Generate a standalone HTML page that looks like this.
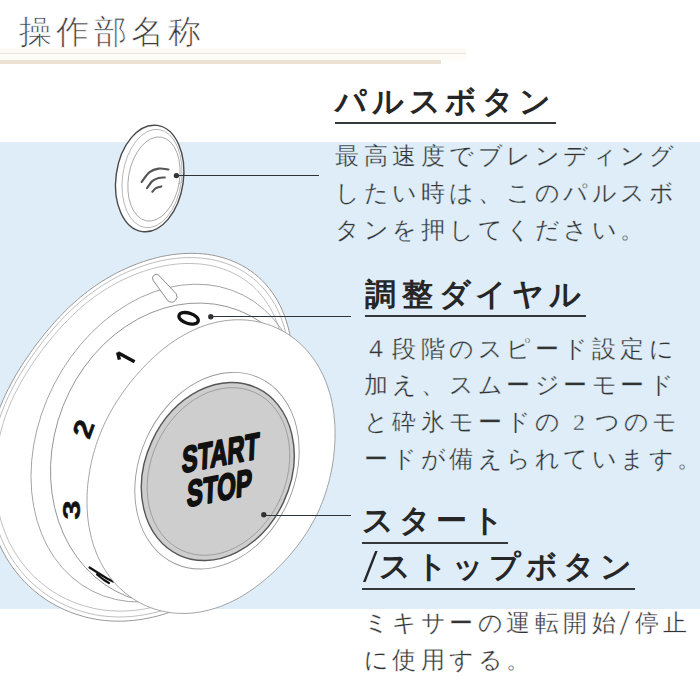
<!DOCTYPE html>
<html lang="ja">
<head>
<meta charset="utf-8">
<style>
html,body{margin:0;padding:0;}
body{width:700px;height:700px;overflow:hidden;position:relative;background:#fff;font-family:"Liberation Sans",sans-serif;}
.band{position:absolute;left:0;top:142px;width:700px;height:467px;background:#deedf8;}
.ln0{position:absolute;left:0;top:48px;width:466px;height:5px;background:#fdf9f6;}
.ln1{position:absolute;left:0;top:53px;width:466px;height:1px;background:#ebe5dc;}
.ln1b{position:absolute;left:0;top:54px;width:466px;height:6px;background:#fefcf7;}
.ln2{position:absolute;left:0;top:60px;width:441px;height:4px;background:#ebe1d4;}
svg{position:absolute;left:0;top:0;}
.t,.h,.b{position:absolute;white-space:nowrap;}
.t{font-size:33px;line-height:33px;color:#3c3c3c;-webkit-text-stroke:0.7px #fff;}
.t span{width:37.3px;}
.h{font-family:"Liberation Serif",serif;font-weight:bold;font-size:31px;line-height:31px;color:#262626;}
.h span{width:36.8px;}
.b{font-family:"Liberation Serif",serif;font-size:24px;line-height:24px;color:#333;-webkit-text-stroke:0.3px #deedf8;}
.b.w{-webkit-text-stroke-color:#fff;}
.b span{width:28.5px;}
.t span,.h span,.b span{display:inline-block;}
.u{position:absolute;background:#35383b;}
</style>
</head>
<body>
<div class="band"></div>
<div class="ln0"></div><div class="ln1"></div><div class="ln1b"></div><div class="ln2"></div>
<svg width="700" height="700" viewBox="0 0 700 700">
  <g fill="none" stroke-linecap="round">
    <ellipse cx="149.7" cy="178.5" rx="33.7" ry="53.6" transform="rotate(8 149.7 178.5)" fill="#fff" stroke="#4a4a4a" stroke-width="1.4"/>
    <ellipse cx="152" cy="178.5" rx="29.5" ry="49.5" transform="rotate(8 152 178.5)" stroke="#aaa" stroke-width="0.8"/>
    <ellipse cx="154" cy="179" rx="25.5" ry="42.5" transform="rotate(10 154 179)" stroke="#999" stroke-width="0.8"/>
    <path d="M141.6 182.0 C142.9 180.3 146.8 174.3 149.6 172.1 C152.4 169.9 155.5 169.0 158.6 168.6 C161.7 168.2 166.8 169.3 168.4 169.5" stroke="#555" stroke-width="2.1"/>
    <path d="M147.0 188.2 C147.9 187.0 150.4 182.8 152.3 181.1 C154.2 179.4 156.5 178.5 158.6 177.9 C160.7 177.3 163.8 177.6 164.8 177.5" stroke="#555" stroke-width="2.1"/>
    <path d="M152.3 191.8 C152.9 191.2 154.4 189.1 155.9 188.2 C157.4 187.3 160.4 186.7 161.3 186.4" stroke="#555" stroke-width="2.1"/>
  </g>
  <circle cx="176.4" cy="175.6" r="2.7" fill="#333"/>
  <line x1="176.4" y1="175.5" x2="319" y2="175.5" stroke="#2d3338" stroke-width="1.1"/>
  <g stroke-linecap="round">
    <path d="M-9.4 438.0 L-8.4 433.9 L-7.4 429.9 L-6.3 425.9 L-5.1 421.9 L-3.9 418.0 L-2.6 414.2 L-1.2 410.4 L0.3 406.6 L1.8 402.9 L3.4 399.3 L5.0 395.7 L6.7 392.1 L8.5 388.6 L10.3 385.1 L12.1 381.7 L14.0 378.3 L15.9 375.0 L17.9 371.7 L19.9 368.4 L21.9 365.2 L24.0 362.0 L26.1 358.9 L28.3 355.7 L30.5 352.6 L32.7 349.5 L34.9 346.4 L37.2 343.4 L39.5 340.4 L41.9 337.3 L44.3 334.3 L46.8 331.3 L49.3 328.4 L51.8 325.4 L54.4 322.4 L57.1 319.5 L59.8 316.6 L62.6 313.7 L65.4 310.8 L68.3 308.0 L71.3 305.2 L74.4 302.4 L77.5 299.6 L80.7 296.9 L84.0 294.3 L87.4 291.6 L90.8 289.0 L94.4 286.5 L98.0 284.0 L101.7 281.6 L105.5 279.3 L109.3 277.0 L113.3 274.8 L117.3 272.6 L121.5 270.5 L125.7 268.6 L130.0 266.7 L134.4 264.9 L138.8 263.2 L143.4 261.6 L148.0 260.1 L152.7 258.8 L157.5 257.5 L162.3 256.4 L167.2 255.5 L172.1 254.7 L177.1 254.1 L182.2 253.6 L187.2 253.4 L192.3 253.3 L197.4 253.5 L202.6 253.8 L207.6 254.4 L212.7 255.2 L217.7 256.3 L222.7 257.6 L227.6 259.2 L232.4 261.0 L237.1 263.0 L241.7 265.4 L246.2 267.9 L250.5 270.8 L254.6 273.8 L258.6 277.1 L262.3 280.7 L265.8 284.4 L269.2 288.4 L272.3 292.5 L275.1 296.8 L277.8 301.2 L280.2 305.8 L282.4 310.5 L284.3 315.3 L286.0 320.1 L287.5 325.0 L288.8 329.9 L290.0 334.9 L290.9 339.8 L291.7 344.7 L292.4 349.5 L292.9 354.3 L293.3 359.1 L293.7 363.8 L294.0 368.4 L294.3 372.9 L294.5 377.3 L294.8 381.7 L295.1 385.9 L295.4 390.1 L295.7 394.2 L296.1 398.3 L296.6 402.3 L297.1 406.3 L297.7 410.3 L298.3 414.2 L299.0 418.1 L299.8 422.0 L300.6 426.0 L301.4 430.0 L302.3 434.0 L303.1 438.0 L304.0 442.1 L304.8 446.2 L305.5 450.4 L306.2 454.6 L306.8 458.9 L307.3 463.2 L307.7 467.6 L308.0 472.0 L308.0 476.4 L307.9 480.9 L307.7 485.3 L307.2 489.7 L306.5 494.1 L305.6 498.5 L304.5 502.8 L303.2 507.1 L301.7 511.3 L300.0 515.5 L298.1 519.5 L296.0 523.5 L293.7 527.3 L291.3 531.1 L288.7 534.7 L285.9 538.2 L283.0 541.6 L280.0 544.9 L276.9 548.1 L273.7 551.2 L270.4 554.1 L267.0 557.0 L263.6 559.8 L260.1 562.5 L256.6 565.1 L253.0 567.7 L249.4 570.2 L245.8 572.6 L242.2 575.0 L238.5 577.4 L234.8 579.7 L231.1 582.0 L227.4 584.2 L223.6 586.4 L219.9 588.6 L216.0 590.8 L212.2 593.0 L208.3 595.1 L204.4 597.2 L200.4 599.2 L196.3 601.2 L192.3 603.2 L188.1 605.1 L183.9 606.9 L179.6 608.7 L175.3 610.3 L170.9 611.9 L166.4 613.4 L161.9 614.8 L157.3 616.1 L152.7 617.2 L148.0 618.2 L143.3 619.1 L138.5 619.8 L133.6 620.4 L128.8 620.8 L123.9 621.1 L119.0 621.2 L114.1 621.1 L109.1 620.8 L104.2 620.4 L99.3 619.8 L94.4 619.0 L89.5 618.0 L84.7 616.8 L79.9 615.4 L75.1 613.9 L70.4 612.2 L65.8 610.3 L61.3 608.2 L56.8 606.0 L52.4 603.5 L48.1 601.0 L44.0 598.2 L39.9 595.3 L36.0 592.2 L32.2 589.0 L28.5 585.6 L24.9 582.1 L21.5 578.5 L18.3 574.7 L15.2 570.8 L12.2 566.8 L9.5 562.7 L6.8 558.6 L4.4 554.3 L2.1 550.0 L-0.1 545.6 L-2.0 541.1 L-3.8 536.6 L-5.5 532.1 L-7.0 527.5 L-8.3 522.9 L-9.5 518.2 L-10.5 513.6 L-11.4 509.0 L-12.2 504.3 L-12.8 499.7 L-13.2 495.1 L-13.6 490.5 L-13.8 485.9 L-13.9 481.4 L-13.9 476.9 L-13.8 472.4 L-13.6 468.0 L-13.3 463.5 L-12.9 459.2 L-12.4 454.9 L-11.7 450.6 L-11.1 446.3 L-10.3 442.1 Z" fill="#fff" stroke="#999" stroke-width="1"/>
    <path d="M-9.4 438.0 L-8.4 433.9 L-7.4 429.9 L-6.3 425.9 L-5.1 421.9 L-3.9 418.0 L-2.6 414.2 L-1.2 410.4 L0.3 406.6 L1.8 402.9 L3.4 399.3 L5.0 395.7 L6.7 392.1 L8.5 388.6 L10.3 385.1 L12.1 381.7 L14.0 378.3 L15.9 375.0 L17.9 371.7 L19.9 368.4 L21.9 365.2 L24.0 362.0 L26.1 358.9 L28.3 355.7 L30.5 352.6 L32.7 349.5 L34.9 346.4 L37.2 343.4 L39.5 340.4 L41.9 337.3 L44.3 334.3 L46.8 331.3 L49.3 328.4 L51.8 325.4 L54.4 322.4 L57.1 319.5 L59.8 316.6 L62.6 313.7 L65.4 310.8 L68.3 308.0 L71.3 305.2 L74.4 302.4 L77.5 299.6 L80.7 296.9 L84.0 294.3 L87.4 291.6 L90.8 289.0 L94.4 286.5 L98.0 284.0 L101.7 281.6 L105.5 279.3 L109.3 277.0 L113.3 274.8 L117.3 272.6 L121.5 270.5 L125.7 268.6 L130.0 266.7 L134.4 264.9 L138.8 263.2 L143.4 261.6 L148.0 260.1 L152.7 258.8 L157.5 257.5 L162.3 256.4 L167.2 255.5 L172.1 254.7 L177.1 254.1 L182.2 253.6 L187.2 253.4 L192.3 253.3 L197.4 253.5 L202.6 253.8 L207.6 254.4 L212.7 255.2 L217.7 256.3 L222.7 257.6 L227.6 259.2 L232.4 261.0 L237.1 263.0 L241.7 265.4 L246.2 267.9 L250.5 270.8 L254.6 273.8 L258.6 277.1 L262.3 280.7 L265.8 284.4 L269.2 288.4 L272.3 292.5 L275.1 296.8 L277.8 301.2 L280.2 305.8 L282.4 310.5 L284.3 315.3 L286.0 320.1 L287.5 325.0 L288.8 329.9 L290.0 334.9 L290.9 339.8 L291.7 344.7 L292.4 349.5 L292.9 354.3 L293.3 359.1 L293.7 363.8 L294.0 368.4 L294.3 372.9 L294.5 377.3 L294.8 381.7 L295.1 385.9 L295.4 390.1 L295.7 394.2 L296.1 398.3 L296.6 402.3 L297.1 406.3 L297.7 410.3 L298.3 414.2 L299.0 418.1 L299.8 422.0 L300.6 426.0 L301.4 430.0 L302.3 434.0 L303.1 438.0 L304.0 442.1 L304.8 446.2 L305.5 450.4 L306.2 454.6 L306.8 458.9 L307.3 463.2 L307.7 467.6 L308.0 472.0 L308.0 476.4 L307.9 480.9 L307.7 485.3 L307.2 489.7 L306.5 494.1 L305.6 498.5 L304.5 502.8 L303.2 507.1 L301.7 511.3 L300.0 515.5 L298.1 519.5 L296.0 523.5 L293.7 527.3 L291.3 531.1 L288.7 534.7 L285.9 538.2 L283.0 541.6 L280.0 544.9 L276.9 548.1 L273.7 551.2 L270.4 554.1 L267.0 557.0 L263.6 559.8 L260.1 562.5 L256.6 565.1 L253.0 567.7 L249.4 570.2 L245.8 572.6 L242.2 575.0 L238.5 577.4 L234.8 579.7 L231.1 582.0 L227.4 584.2 L223.6 586.4 L219.9 588.6 L216.0 590.8 L212.2 593.0 L208.3 595.1 L204.4 597.2 L200.4 599.2 L196.3 601.2 L192.3 603.2 L188.1 605.1 L183.9 606.9 L179.6 608.7 L175.3 610.3 L170.9 611.9 L166.4 613.4 L161.9 614.8 L157.3 616.1 L152.7 617.2 L148.0 618.2 L143.3 619.1 L138.5 619.8 L133.6 620.4 L128.8 620.8 L123.9 621.1 L119.0 621.2 L114.1 621.1 L109.1 620.8 L104.2 620.4 L99.3 619.8 L94.4 619.0 L89.5 618.0 L84.7 616.8 L79.9 615.4 L75.1 613.9 L70.4 612.2 L65.8 610.3 L61.3 608.2 L56.8 606.0 L52.4 603.5 L48.1 601.0 L44.0 598.2 L39.9 595.3 L36.0 592.2 L32.2 589.0 L28.5 585.6 L24.9 582.1 L21.5 578.5 L18.3 574.7 L15.2 570.8 L12.2 566.8 L9.5 562.7 L6.8 558.6 L4.4 554.3 L2.1 550.0 L-0.1 545.6 L-2.0 541.1 L-3.8 536.6 L-5.5 532.1 L-7.0 527.5 L-8.3 522.9 L-9.5 518.2 L-10.5 513.6 L-11.4 509.0 L-12.2 504.3 L-12.8 499.7 L-13.2 495.1 L-13.6 490.5 L-13.8 485.9 L-13.9 481.4 L-13.9 476.9 L-13.8 472.4 L-13.6 468.0 L-13.3 463.5 L-12.9 459.2 L-12.4 454.9 L-11.7 450.6 L-11.1 446.3 L-10.3 442.1 Z" fill="none" stroke="#aaa" stroke-width="0.8" transform="translate(148 438) scale(0.977) translate(-148 -438)"/>
    <path d="M-9.4 438.0 L-8.4 433.9 L-7.4 429.9 L-6.3 425.9 L-5.1 421.9 L-3.9 418.0 L-2.6 414.2 L-1.2 410.4 L0.3 406.6 L1.8 402.9 L3.4 399.3 L5.0 395.7 L6.7 392.1 L8.5 388.6 L10.3 385.1 L12.1 381.7 L14.0 378.3 L15.9 375.0 L17.9 371.7 L19.9 368.4 L21.9 365.2 L24.0 362.0 L26.1 358.9 L28.3 355.7 L30.5 352.6 L32.7 349.5 L34.9 346.4 L37.2 343.4 L39.5 340.4 L41.9 337.3 L44.3 334.3 L46.8 331.3 L49.3 328.4 L51.8 325.4 L54.4 322.4 L57.1 319.5 L59.8 316.6 L62.6 313.7 L65.4 310.8 L68.3 308.0 L71.3 305.2 L74.4 302.4 L77.5 299.6 L80.7 296.9 L84.0 294.3 L87.4 291.6 L90.8 289.0 L94.4 286.5 L98.0 284.0 L101.7 281.6 L105.5 279.3 L109.3 277.0 L113.3 274.8 L117.3 272.6 L121.5 270.5 L125.7 268.6 L130.0 266.7 L134.4 264.9 L138.8 263.2 L143.4 261.6 L148.0 260.1 L152.7 258.8 L157.5 257.5 L162.3 256.4 L167.2 255.5 L172.1 254.7 L177.1 254.1 L182.2 253.6 L187.2 253.4 L192.3 253.3 L197.4 253.5 L202.6 253.8 L207.6 254.4 L212.7 255.2 L217.7 256.3 L222.7 257.6 L227.6 259.2 L232.4 261.0 L237.1 263.0 L241.7 265.4 L246.2 267.9 L250.5 270.8 L254.6 273.8 L258.6 277.1 L262.3 280.7 L265.8 284.4 L269.2 288.4 L272.3 292.5 L275.1 296.8 L277.8 301.2 L280.2 305.8 L282.4 310.5 L284.3 315.3 L286.0 320.1 L287.5 325.0 L288.8 329.9 L290.0 334.9 L290.9 339.8 L291.7 344.7 L292.4 349.5 L292.9 354.3 L293.3 359.1 L293.7 363.8 L294.0 368.4 L294.3 372.9 L294.5 377.3 L294.8 381.7 L295.1 385.9 L295.4 390.1 L295.7 394.2 L296.1 398.3 L296.6 402.3 L297.1 406.3 L297.7 410.3 L298.3 414.2 L299.0 418.1 L299.8 422.0 L300.6 426.0 L301.4 430.0 L302.3 434.0 L303.1 438.0 L304.0 442.1 L304.8 446.2 L305.5 450.4 L306.2 454.6 L306.8 458.9 L307.3 463.2 L307.7 467.6 L308.0 472.0 L308.0 476.4 L307.9 480.9 L307.7 485.3 L307.2 489.7 L306.5 494.1 L305.6 498.5 L304.5 502.8 L303.2 507.1 L301.7 511.3 L300.0 515.5 L298.1 519.5 L296.0 523.5 L293.7 527.3 L291.3 531.1 L288.7 534.7 L285.9 538.2 L283.0 541.6 L280.0 544.9 L276.9 548.1 L273.7 551.2 L270.4 554.1 L267.0 557.0 L263.6 559.8 L260.1 562.5 L256.6 565.1 L253.0 567.7 L249.4 570.2 L245.8 572.6 L242.2 575.0 L238.5 577.4 L234.8 579.7 L231.1 582.0 L227.4 584.2 L223.6 586.4 L219.9 588.6 L216.0 590.8 L212.2 593.0 L208.3 595.1 L204.4 597.2 L200.4 599.2 L196.3 601.2 L192.3 603.2 L188.1 605.1 L183.9 606.9 L179.6 608.7 L175.3 610.3 L170.9 611.9 L166.4 613.4 L161.9 614.8 L157.3 616.1 L152.7 617.2 L148.0 618.2 L143.3 619.1 L138.5 619.8 L133.6 620.4 L128.8 620.8 L123.9 621.1 L119.0 621.2 L114.1 621.1 L109.1 620.8 L104.2 620.4 L99.3 619.8 L94.4 619.0 L89.5 618.0 L84.7 616.8 L79.9 615.4 L75.1 613.9 L70.4 612.2 L65.8 610.3 L61.3 608.2 L56.8 606.0 L52.4 603.5 L48.1 601.0 L44.0 598.2 L39.9 595.3 L36.0 592.2 L32.2 589.0 L28.5 585.6 L24.9 582.1 L21.5 578.5 L18.3 574.7 L15.2 570.8 L12.2 566.8 L9.5 562.7 L6.8 558.6 L4.4 554.3 L2.1 550.0 L-0.1 545.6 L-2.0 541.1 L-3.8 536.6 L-5.5 532.1 L-7.0 527.5 L-8.3 522.9 L-9.5 518.2 L-10.5 513.6 L-11.4 509.0 L-12.2 504.3 L-12.8 499.7 L-13.2 495.1 L-13.6 490.5 L-13.8 485.9 L-13.9 481.4 L-13.9 476.9 L-13.8 472.4 L-13.6 468.0 L-13.3 463.5 L-12.9 459.2 L-12.4 454.9 L-11.7 450.6 L-11.1 446.3 L-10.3 442.1 Z" fill="none" stroke="#aaa" stroke-width="0.8" transform="translate(148 438) scale(0.945) translate(-148 -438)"/>
    <ellipse cx="167.7" cy="443.1" rx="127.9" ry="166.1" transform="rotate(27.1 167.7 443.1)" fill="none" stroke="#999" stroke-width="0.8"/>
    <ellipse cx="183.1" cy="453.5" rx="129.1" ry="153.5" transform="rotate(21.4 183.1 453.5)" fill="none" stroke="#888" stroke-width="0.8"/>
    <path d="M-3.6 -13 A3.8 3.8 0 0 1 3.9 -13.5 L5.4 12 A5.5 5.5 0 0 1 -5.4 12.5 Z" transform="translate(164.3 288) rotate(-40)" fill="#fff" stroke="#888" stroke-width="0.9"/>
    <g font-family="Liberation Sans" font-weight="bold" fill="#111" stroke="#111" stroke-width="0.4" stroke-linejoin="round">
      <ellipse cx="188.6" cy="318.3" rx="10" ry="5.2" transform="rotate(17 188.6 318.3)" fill="none" stroke-width="3.3"/>
      <path d="M118 352.8 L134.6 361.8 M117.6 352.4 L119.4 359.6" fill="none" stroke-width="3.4" stroke-linecap="butt"/>
      <text x="0" y="0" font-size="27" text-anchor="middle" transform="translate(83.3 429) rotate(-70) scale(1.15 1) translate(0 9.5)">2</text>
      <text x="0" y="0" font-size="27" text-anchor="middle" transform="translate(72 510) rotate(-90) scale(1.3 0.88) translate(0 9.5)">3</text>
      <path d="M89.5 567.5 L107 578.5 L113 581.5 M97 574.5 L104 580 L109 583" fill="none" stroke-width="2.2" stroke-linecap="round"/>
    </g>
    <path d="M90.0 469.0 L90.7 465.8 L91.3 462.7 L92.0 459.6 L92.8 456.5 L93.6 453.4 L94.5 450.4 L95.4 447.4 L96.3 444.4 L97.3 441.5 L98.4 438.6 L99.5 435.7 L100.6 432.8 L101.8 430.0 L103.0 427.1 L104.2 424.4 L105.5 421.6 L106.9 418.9 L108.3 416.2 L109.7 413.5 L111.2 410.8 L112.7 408.1 L114.3 405.5 L115.9 402.9 L117.5 400.3 L119.2 397.8 L120.9 395.2 L122.7 392.7 L124.5 390.2 L126.3 387.7 L128.2 385.2 L130.1 382.7 L132.1 380.3 L134.1 377.8 L136.2 375.4 L138.3 373.0 L140.5 370.5 L142.7 368.1 L145.0 365.8 L147.3 363.4 L149.7 361.0 L152.1 358.7 L154.6 356.4 L157.2 354.1 L159.8 351.8 L162.5 349.6 L165.3 347.4 L168.2 345.2 L171.1 343.1 L174.1 341.0 L177.2 339.0 L180.3 337.1 L183.6 335.2 L186.9 333.4 L190.2 331.6 L193.7 330.0 L197.2 328.4 L200.8 327.0 L204.5 325.7 L208.2 324.4 L212.0 323.4 L215.8 322.4 L219.7 321.6 L223.7 320.9 L227.6 320.4 L231.6 320.0 L235.6 319.8 L239.7 319.8 L243.7 319.9 L247.7 320.2 L251.7 320.7 L255.7 321.3 L259.7 322.2 L263.6 323.2 L267.5 324.4 L271.3 325.7 L275.1 327.3 L278.8 329.0 L282.4 330.8 L285.9 332.9 L289.3 335.1 L292.6 337.4 L295.8 339.9 L298.9 342.5 L301.9 345.3 L304.7 348.1 L307.5 351.1 L310.0 354.2 L312.5 357.4 L314.8 360.7 L317.0 364.0 L319.0 367.4 L320.9 370.9 L322.7 374.5 L324.3 378.0 L325.8 381.7 L327.2 385.3 L328.4 389.0 L329.6 392.7 L330.6 396.3 L331.5 400.0 L332.2 403.7 L332.9 407.4 L333.5 411.1 L334.0 414.7 L334.3 418.3 L334.6 421.9 L334.9 425.5 L335.0 429.0 L335.0 432.6 L335.0 436.0 L335.0 439.5 L334.8 442.9 L334.6 446.3 L334.4 449.6 L334.0 452.9 L333.7 456.2 L333.3 459.5 L332.8 462.7 L332.3 465.9 L331.7 469.0 L331.1 472.1 L330.4 475.2 L329.7 478.3 L329.0 481.3 L328.2 484.3 L327.3 487.3 L326.5 490.2 L325.5 493.1 L324.6 496.0 L323.5 498.9 L322.5 501.7 L321.3 504.5 L320.2 507.3 L319.0 510.1 L317.7 512.8 L316.4 515.5 L315.1 518.2 L313.7 520.8 L312.2 523.4 L310.8 526.0 L309.2 528.6 L307.7 531.1 L306.1 533.6 L304.4 536.1 L302.7 538.6 L301.0 541.0 L299.2 543.5 L297.4 545.9 L295.5 548.2 L293.6 550.6 L291.7 552.9 L289.7 555.3 L287.6 557.6 L285.6 559.9 L283.5 562.1 L281.3 564.4 L279.1 566.6 L276.9 568.9 L274.6 571.1 L272.2 573.3 L269.8 575.5 L267.3 577.6 L264.8 579.8 L262.3 581.9 L259.6 584.0 L256.9 586.0 L254.2 588.1 L251.3 590.1 L248.4 592.0 L245.5 593.9 L242.4 595.8 L239.3 597.6 L236.2 599.4 L232.9 601.0 L229.6 602.6 L226.2 604.1 L222.7 605.6 L219.2 606.9 L215.6 608.1 L212.0 609.2 L208.3 610.2 L204.6 611.1 L200.8 611.9 L196.9 612.5 L193.0 613.0 L189.1 613.3 L185.2 613.4 L181.3 613.4 L177.4 613.3 L173.4 613.0 L169.5 612.5 L165.6 611.8 L161.7 611.0 L157.9 610.0 L154.1 608.9 L150.3 607.5 L146.6 606.1 L143.0 604.4 L139.5 602.6 L136.0 600.6 L132.7 598.5 L129.4 596.2 L126.2 593.8 L123.2 591.2 L120.2 588.6 L117.4 585.8 L114.7 582.9 L112.2 579.9 L109.7 576.8 L107.4 573.6 L105.3 570.3 L103.2 566.9 L101.3 563.5 L99.5 560.1 L97.9 556.6 L96.4 553.0 L95.0 549.4 L93.7 545.8 L92.6 542.2 L91.6 538.5 L90.7 534.9 L89.9 531.2 L89.2 527.6 L88.6 524.0 L88.1 520.3 L87.7 516.7 L87.4 513.1 L87.2 509.6 L87.0 506.0 L87.0 502.5 L87.0 499.0 L87.1 495.6 L87.2 492.1 L87.5 488.7 L87.7 485.4 L88.1 482.0 L88.5 478.7 L89.0 475.4 L89.5 472.2 Z" fill="#fff" stroke="#999" stroke-width="0.9"/>
    <ellipse cx="217.0" cy="470.7" rx="77.6" ry="102.0" transform="rotate(24.2 217.0 470.7)" fill="#fff" stroke="#999" stroke-width="0.9"/>
    <ellipse cx="217.8" cy="471.5" rx="72.5" ry="92.2" transform="rotate(25 217.8 471.5)" fill="#cecece" stroke="#555" stroke-width="1.4"/>
    <ellipse cx="218.5" cy="471.5" rx="67.5" ry="87" transform="rotate(25 218.5 471.5)" fill="none" stroke="#999" stroke-width="0.8"/>
  </g>
  <g font-family="Liberation Sans" font-weight="bold" fill="#111" stroke="#111" stroke-width="2" stroke-linejoin="round" font-size="37">
    <text transform="matrix(0.64 -0.123 -0.04 1 181.5 473)">START</text>
    <text transform="matrix(0.65 -0.125 -0.04 1 186.5 507)">STOP</text>
  </g>
  <circle cx="210.8" cy="316.7" r="2.7" fill="#333"/>
  <line x1="210.8" y1="316.5" x2="351" y2="316.5" stroke="#2d3338" stroke-width="1.1"/>
  <circle cx="263.8" cy="514.8" r="2.7" fill="#333"/>
  <line x1="263.8" y1="515.5" x2="351" y2="515.5" stroke="#2d3338" stroke-width="1.1"/>
</svg>
<div class="u" style="left:335.0px;top:122.0px;width:220.8px;height:2px"></div><div class="u" style="left:365.0px;top:315.0px;width:220.8px;height:2px"></div><div class="u" style="left:362.0px;top:541.5px;width:146.2px;height:2px"></div><div class="u" style="left:362.0px;top:588.0px;width:272.7px;height:2px"></div>
<div class="t" style="left:19.0px;top:14.5px;"><span>操</span><span>作</span><span>部</span><span>名</span><span>称</span></div>
<div class="h" style="left:335.0px;top:86.1px;"><span>パ</span><span>ル</span><span>ス</span><span>ボ</span><span>タ</span><span>ン</span></div>
<div class="h" style="left:365.0px;top:279.4px;"><span>調</span><span>整</span><span>ダ</span><span>イ</span><span>ヤ</span><span>ル</span></div>
<div class="h" style="left:362.0px;top:504.7px;"><span>ス</span><span>タ</span><span>ー</span><span>ト</span></div>
<div class="h" style="left:362.0px;top:550.7px;"><span style="width:16.8px;text-align:center;font-weight:normal;transform:scale(1.7,1.5)">/</span><span>ス</span><span>ト</span><span>ッ</span><span>プ</span><span>ボ</span><span>タ</span><span>ン</span></div>
<div class="b" style="left:335.0px;top:143.7px;"><span>最</span><span>高</span><span>速</span><span>度</span><span>で</span><span>ブ</span><span>レ</span><span>ン</span><span>デ</span><span>ィ</span><span>ン</span><span>グ</span></div>
<div class="b" style="left:335.0px;top:180.9px;"><span>し</span><span>た</span><span>い</span><span>時</span><span>は</span><span>、</span><span>こ</span><span>の</span><span>パ</span><span>ル</span><span>ス</span><span>ボ</span></div>
<div class="b" style="left:335.0px;top:218.0px;"><span>タ</span><span>ン</span><span>を</span><span>押</span><span>し</span><span>て</span><span>く</span><span>だ</span><span>さ</span><span>い</span><span>。</span></div>
<div class="b" style="left:363.5px;top:336.5px;"><span>４</span><span>段</span><span>階</span><span>の</span><span>ス</span><span>ピ</span><span>ー</span><span>ド</span><span>設</span><span>定</span><span>に</span></div>
<div class="b" style="left:363.5px;top:373.4px;"><span>加</span><span>え</span><span>、</span><span>ス</span><span>ム</span><span>ー</span><span>ジ</span><span>ー</span><span>モ</span><span>ー</span><span>ド</span></div>
<div class="b" style="left:363.5px;top:410.3px;"><span>と</span><span>砕</span><span>氷</span><span>モ</span><span>ー</span><span>ド</span><span>の</span><span style="width:32px;text-align:center">2</span><span>つ</span><span>の</span><span>モ</span></div>
<div class="b" style="left:363.5px;top:447.2px;"><span>ー</span><span>ド</span><span>が</span><span>備</span><span>え</span><span>ら</span><span>れ</span><span>て</span><span>い</span><span>ま</span><span>す</span><span>。</span></div>
<div class="b w" style="left:363.5px;top:611.3px;"><span>ミ</span><span>キ</span><span>サ</span><span>ー</span><span>の</span><span>運</span><span>転</span><span>開</span><span>始</span><span style="width:14.5px;text-align:center;font-weight:normal;transform:translateX(-2.5px) scale(1.6,1.45)">/</span><span>停</span><span>止</span></div>
<div class="b w" style="left:363.5px;top:648.0px;"><span>に</span><span>使</span><span>用</span><span>す</span><span>る</span><span>。</span></div>
</body>
</html>
